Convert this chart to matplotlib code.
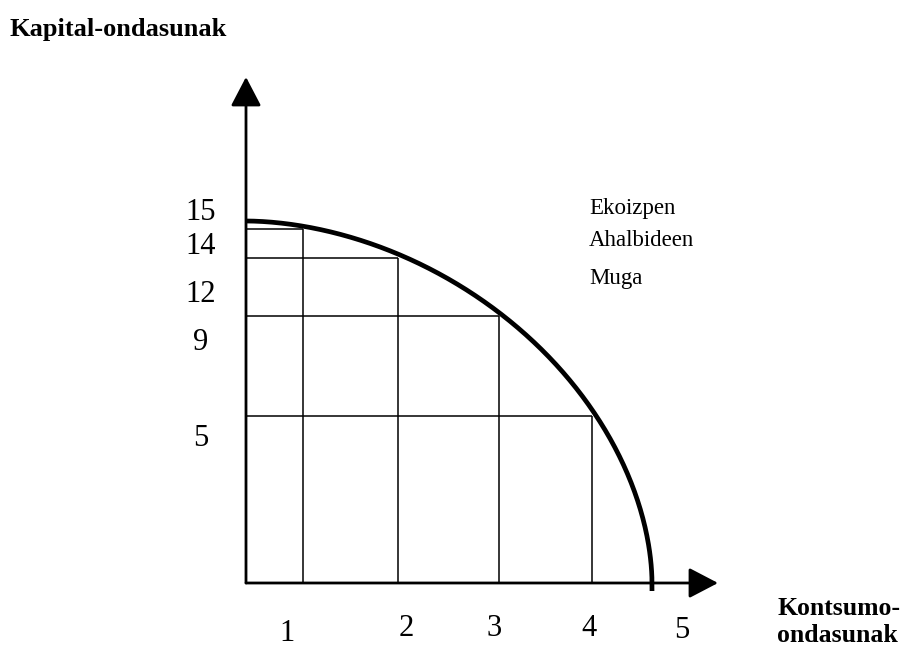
import numpy as np
import matplotlib.pyplot as plt

# production possibilities: consumption goods vs capital goods
consumption = [0, 1, 2, 3, 4, 5]
capital = [15, 14, 12, 9, 5, 0]

x_tick_values = [1, 2, 3, 4, 5]
x_tick_labels = ['1', '2', '3', '4', '5']
y_tick_values = [15, 14, 12, 9, 5]
y_tick_labels = ['15', '14', '12', '9', '5']

y_title = 'Kapital-ondasunak'
x_title = ['Kontsumo-', 'ondasunak']
frontier_text = ['Ekoizpen', 'Ahalbideen', 'Muga']

# the drawing is hand-spaced, so each axis gets its own spacing (pixels from origin)
X_ANCHOR_VAL = [0, 1, 2, 3, 4, 5, 7]
X_ANCHOR_PX = [0, 57, 152, 253, 346, 406, 526]
Y_ANCHOR_VAL = [-1, 0, 5, 9, 12, 14, 15, 35]
Y_ANCHOR_PX = [-33, 0, 167, 267, 325, 354, 362, 522]

# label offsets in pixels (dx, dy) from their tick position
Y_LABEL_OFFSETS = [(-45, 1), (-45, -25), (-45, -44), (-45, -34), (-45, -30)]
X_LABEL_OFFSETS = [(-16, -58), (8, -53), (-5, -53), (-3, -53), (30, -55)]

CURVE_POWER = 1.85   # bow of the frontier (2 would be a quarter ellipse)
CURVE_TAIL = 8       # pixels the frontier runs past the x axis

W, H = 902, 646


def make_scale(vals, pix):
    fwd = lambda v: np.interp(v, vals, pix)
    inv = lambda p: np.interp(p, pix, vals)
    return fwd, inv


plt.rcParams['font.family'] = ['Liberation Serif', 'DejaVu Serif']

fig = plt.figure(figsize=(W / 100, H / 100), dpi=100)
ox, oy = 246, 583          # origin in pixels
right, top = 718, 77       # arrow tips
ax = fig.add_axes([ox / W, (H - oy) / H, (right - ox) / W, (oy - top) / H])

fx, ix = make_scale(X_ANCHOR_VAL, X_ANCHOR_PX)
fy, iy = make_scale(Y_ANCHOR_VAL, Y_ANCHOR_PX)
ax.set_xscale('function', functions=(fx, ix))
ax.set_yscale('function', functions=(fy, iy))
ax.set_xlim(0, float(ix(right - ox)))
ax.set_ylim(0, float(iy(oy - top)))
ax.axis('off')

# grid boxes under the frontier
for c, k in zip(consumption[1:-1], capital[1:-1]):
    ax.vlines(c, 0, k, color='black', lw=1.1, clip_on=False)
    ax.hlines(k, 0, c, color='black', lw=1.1, clip_on=False)

# frontier: bowed-out arc between the two intercepts of the data
a = fx(max(consumption))
b = fy(max(capital))
t = np.linspace(0, np.pi / 2, 300)
px = a * np.cos(t) ** (2 / CURVE_POWER)
py = b * np.sin(t) ** (2 / CURVE_POWER)
px = np.concatenate([[a], px])
py = np.concatenate([[-CURVE_TAIL], py])
ax.plot(ix(px), iy(py), color='black', lw=3.4, solid_capstyle='butt', clip_on=False)

# axes with arrow heads
arrow = dict(arrowstyle='-|>,head_length=0.9,head_width=0.47', mutation_scale=20,
             lw=2, color='black', shrinkA=0, shrinkB=0)
ax.annotate('', xy=(1, 0), xytext=(0, 0), xycoords='axes fraction', arrowprops=arrow)
ax.annotate('', xy=(0, 1), xytext=(0, 0), xycoords='axes fraction', arrowprops=arrow)

# tick labels
for v, lab, (dx, dy) in zip(y_tick_values, y_tick_labels, Y_LABEL_OFFSETS):
    ax.annotate(lab, xy=(0, v), xytext=(dx, dy), textcoords='offset pixels',
                ha='center', va='baseline', fontsize=22)
for v, lab, (dx, dy) in zip(x_tick_values, x_tick_labels, X_LABEL_OFFSETS):
    ax.annotate(lab, xy=(v, 0), xytext=(dx, dy), textcoords='offset pixels',
                ha='center', va='baseline', fontsize=22, annotation_clip=False)

# titles
fig.text(9 / W, 1 - 36 / H, y_title, fontsize=19, fontweight='bold', va='baseline')
for line, base in zip(x_title, [615, 642]):
    fig.text(777 / W, 1 - base / H, line, fontsize=18.5, fontweight='bold', va='baseline')
for line, base in zip(frontier_text, [214, 246, 284]):
    fig.text(589 / W, 1 - base / H, line, fontsize=16.5, va='baseline')

fig.savefig('out.png', dpi=100)
